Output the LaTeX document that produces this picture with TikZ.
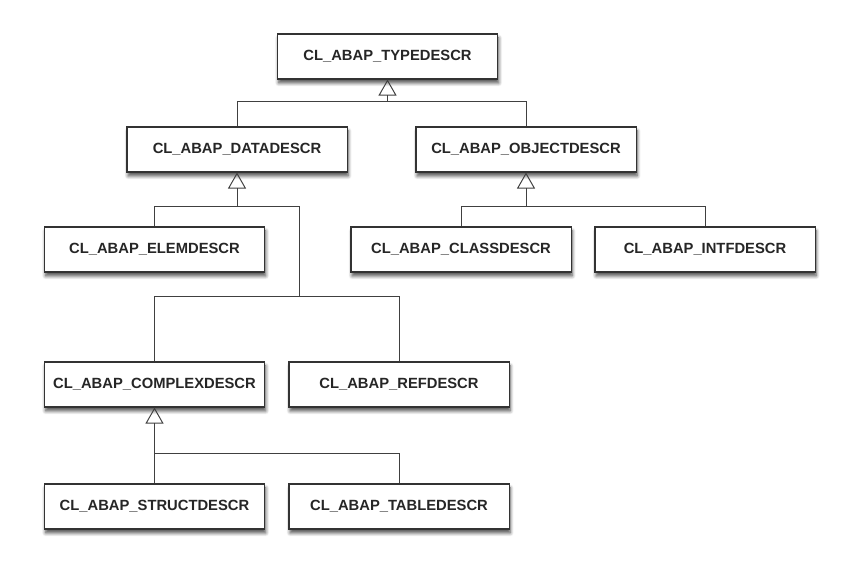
\documentclass[tikz,border=0pt]{standalone}
\usepackage{fontspec}
\setmainfont{Liberation Sans}
\usetikzlibrary{arrows.meta, positioning, shadows.blur}

\begin{document}
\begin{tikzpicture}[x=0.025cm, y=-0.025cm,
  cls/.style={draw=black!80, fill=white, line width=0.75pt,
    minimum width=5.5cm, minimum height=1.125cm, inner sep=0pt,
    font=\fontsize{10.5}{12}\selectfont\bfseries, text=black!85,
    blur shadow={shadow xshift=0.8pt, shadow yshift=-2.8pt,
      shadow blur radius=2.5pt, shadow blur steps=6, shadow opacity=70}},
  link/.style={draw=black!75, line width=0.7pt},
  isa/.style={link, -{Triangle[open, length=0.4cm, width=0.45cm, line width=0.7pt]}}]
  \useasboundingbox (0,0) rectangle (852,572);

  % classes
  \node [cls] (type)    at (387.5,56.5)  {CL\_ABAP\_TYPEDESCR};
  \node [cls] (data)    at (237,149.5)   {CL\_ABAP\_DATADESCR};
  \node [cls] (object)  at (526,149.5)   {CL\_ABAP\_OBJECTDESCR};
  \node [cls] (elem)    at (154.5,249.5) {CL\_ABAP\_ELEMDESCR};
  \node [cls] (class)   at (461,249.5)   {CL\_ABAP\_CLASSDESCR};
  \node [cls] (intf)    at (705,249.5)   {CL\_ABAP\_INTFDESCR};
  \node [cls] (complex) at (154.5,384.5) {CL\_ABAP\_COMPLEXDESCR};
  \node [cls] (ref)     at (399,384.5)   {CL\_ABAP\_REFDESCR};
  \node [cls] (struct)  at (154.5,506.5) {CL\_ABAP\_STRUCTDESCR};
  \node [cls] (table)   at (399,506.5)   {CL\_ABAP\_TABLEDESCR};

  % bus points
  \coordinate (typebus)    at (387.5,101);
  \coordinate (databus)    at (237,206);
  \coordinate (datarest)   at (299,296);
  \coordinate (objectbus)  at (526,206);
  \coordinate (complexbus) at (154.5,453);

  % generalizations
  \foreach \p in {type, data, object, complex}{
    \draw [isa] (\p bus) -- (\p);
  };
  \foreach \c in {data, object}{
    \draw [link] (\c.north) |- (typebus);
  };
  \draw [link] (elem.north) |- (databus);
  \draw [link] (datarest) |- (databus);
  \foreach \c in {complex, ref}{
    \draw [link] (\c.north) |- (datarest);
  };
  \foreach \c in {class, intf}{
    \draw [link] (\c.north) |- (objectbus);
  };
  \foreach \c in {struct, table}{
    \draw [link] (\c.north) |- (complexbus);
  };
\end{tikzpicture}
\end{document}
